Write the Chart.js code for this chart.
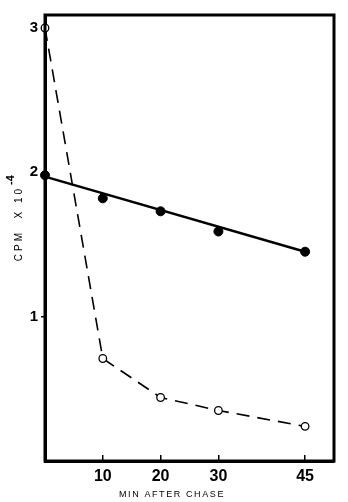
<!DOCTYPE html>
<html><head><meta charset="utf-8">
<script src="https://cdn.jsdelivr.net/npm/chart.js@4/dist/chart.umd.min.js"></script>
<style>html,body{margin:0;padding:0;background:#fff}#wrap{width:348px;height:502px}</style>
</head><body><div id="wrap"><canvas id="c" width="348" height="502"></canvas></div>
<script>
const minutes = [0, 10, 20, 30, 45];
const filledCpm = [1.98, 1.82, 1.73, 1.59, 1.45];
const openCpm = [3.0, 0.71, 0.44, 0.35, 0.24];
const fitLineX = [0, 45];
const fitLineY = [1.97, 1.45];
const xTicks = [10, 20, 30, 45];
const yTicks = [1, 2, 3];
const xTitle = 'MIN AFTER CHASE';
const yTitle = 'CPM  X 10';
const yTitleExp = '-4';

const pts = (xs, ys) => xs.map((x, i) => ({x, y: ys[i]}));

const framePlugin = {
  id: 'frame',
  afterDraw(chart) {
    const {ctx, chartArea: a} = chart;
    ctx.save();
    ctx.strokeStyle = '#000';
    ctx.lineWidth = 3;
    ctx.strokeRect(a.left, a.top, a.right - a.left, a.bottom - a.top);
    ctx.fillStyle = '#000';
    ctx.textAlign = 'center';
    ctx.textBaseline = 'middle';
    // y title
    ctx.save();
    ctx.font = '10px "Liberation Sans", Arial, sans-serif';
    ctx.letterSpacing = '3px';
    ctx.translate(19, 225);
    ctx.rotate(-Math.PI / 2);
    ctx.fillText(yTitle, 1.5, 0);
    ctx.restore();
    ctx.save();
    ctx.font = 'bold 11px "Liberation Sans", Arial, sans-serif';
    ctx.translate(11, 180);
    ctx.rotate(-Math.PI / 2);
    ctx.fillText(yTitleExp, 0, 0);
    ctx.restore();
    // x title
    ctx.save();
    ctx.font = '9px "Liberation Sans", Arial, sans-serif';
    ctx.letterSpacing = '1.6px';
    ctx.fillText(xTitle, 172, 495);
    ctx.restore();
    ctx.restore();
  }
};

new Chart(document.getElementById('c'), {
  type: 'scatter',
  data: {
    datasets: [
      {
        data: pts(fitLineX, fitLineY),
        showLine: true, borderColor: '#000', borderWidth: 2.5,
        pointRadius: 0, clip: false
      },
      {
        data: pts(minutes, filledCpm),
        showLine: false, pointRadius: 4.5,
        pointBackgroundColor: '#000', pointBorderColor: '#000', clip: false
      },
      {
        data: pts(minutes, openCpm),
        showLine: true, borderColor: '#000', borderWidth: 1.6,
        borderDash: [13, 8],
        pointRadius: 3.8, pointBackgroundColor: '#fff', pointBorderColor: '#000',
        pointBorderWidth: 1.3, clip: false
      }
    ]
  },
  options: {
    responsive: false,
    animation: false,
    devicePixelRatio: 1,
    layout: {padding: {top: 15, right: 14, left: 0, bottom: 0}},
    plugins: {legend: {display: false}, tooltip: {enabled: false}},
    scales: {
      x: {
        type: 'linear', min: 0, max: 50,
        afterBuildTicks(s) { s.ticks = xTicks.map(v => ({value: v})); },
        afterFit(s) { s.height = 41; },
        grid: {drawOnChartArea: false, drawTicks: true, tickLength: -6, color: '#000', lineWidth: 1.5},
        border: {display: true, color: '#000', width: 3},
        ticks: {color: '#000', padding: 12, maxRotation: 0,
          font: {family: '"Liberation Sans", Arial, sans-serif', size: 16, weight: 'bold'}}
      },
      y: {
        type: 'linear', min: 0, max: 3.09,
        afterBuildTicks(s) { s.ticks = yTicks.map(v => ({value: v})); },
        afterFit(s) { s.width = 45; },
        grid: {drawOnChartArea: false, drawTicks: true, tickLength: 4, color: '#000', lineWidth: 1.5},
        border: {display: true, color: '#000', width: 3},
        ticks: {color: '#000', padding: 3,
          font: {family: '"Liberation Sans", Arial, sans-serif', size: 15, weight: 'bold'}}
      }
    }
  },
  plugins: [framePlugin]
});
</script></body></html>
